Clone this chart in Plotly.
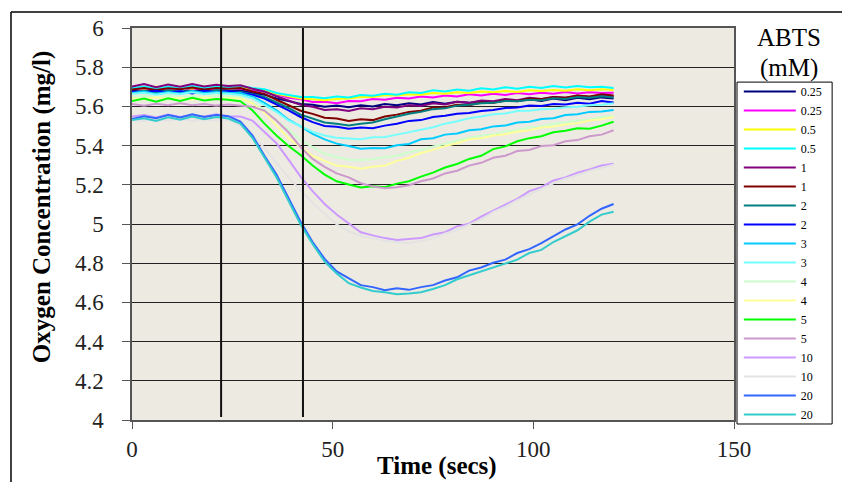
import plotly.graph_objects as go

# Time axis (seconds)
TIME = [0, 3, 6, 9, 12, 15, 18, 21, 24, 27, 30, 33, 36, 39, 42, 45, 48, 51, 54, 57, 60,
        63, 66, 69, 72, 75, 78, 81, 84, 87, 90, 93, 96, 99, 102, 105, 108, 111, 114, 117, 120]

# Legend labels (ABTS concentration, mM)
LABELS = ["0.25", "0.25", "0.5", "0.5", "1", "1", "2", "2", "3", "3",
          "4", "4", "5", "5", "10", "10", "20", "20"]

COLORS = ["#000080", "#FF00FF", "#FFFF00", "#00FFFF", "#800080", "#800000",
          "#008080", "#0000FF", "#00CCFF", "#77FFFF", "#CCFFCC", "#FFFF99",
          "#00FF00", "#CC99CC", "#CC99FF", "#E3E3E3", "#3366FF", "#33CCCC"]

s025a = [5.680, 5.688, 5.676, 5.684, 5.672, 5.686, 5.678, 5.690, 5.680, 5.682, 5.668, 5.660, 5.640, 5.628,
         5.612, 5.608, 5.598, 5.604, 5.596, 5.606, 5.600, 5.612, 5.606, 5.616, 5.610, 5.622, 5.614, 5.624,
         5.618, 5.628, 5.620, 5.632, 5.626, 5.636, 5.628, 5.640, 5.632, 5.644, 5.636, 5.646, 5.640]
s025b = [5.692, 5.684, 5.696, 5.686, 5.698, 5.688, 5.694, 5.686, 5.696, 5.690, 5.684, 5.676, 5.662, 5.644,
         5.636, 5.622, 5.624, 5.616, 5.628, 5.626, 5.638, 5.634, 5.644, 5.640, 5.650, 5.646, 5.656, 5.650,
         5.662, 5.656, 5.664, 5.658, 5.668, 5.662, 5.670, 5.664, 5.674, 5.666, 5.672, 5.668, 5.670]
s05a = [5.696, 5.690, 5.700, 5.692, 5.698, 5.690, 5.702, 5.694, 5.698, 5.696, 5.690, 5.680, 5.664, 5.652,
        5.640, 5.636, 5.632, 5.638, 5.640, 5.648, 5.648, 5.658, 5.656, 5.662, 5.660, 5.668, 5.664, 5.672,
        5.668, 5.676, 5.672, 5.678, 5.674, 5.682, 5.678, 5.684, 5.680, 5.688, 5.682, 5.688, 5.684]
s05b = [5.694, 5.702, 5.690, 5.700, 5.692, 5.704, 5.694, 5.700, 5.696, 5.704, 5.694, 5.688, 5.668, 5.658,
        5.648, 5.648, 5.642, 5.650, 5.646, 5.658, 5.654, 5.664, 5.660, 5.672, 5.668, 5.682, 5.676, 5.686,
        5.680, 5.692, 5.686, 5.698, 5.690, 5.700, 5.694, 5.704, 5.696, 5.704, 5.698, 5.700, 5.694]
s1a = [5.702, 5.714, 5.698, 5.712, 5.700, 5.714, 5.702, 5.710, 5.704, 5.708, 5.690, 5.676, 5.652, 5.632,
       5.608, 5.598, 5.582, 5.586, 5.576, 5.590, 5.586, 5.598, 5.594, 5.606, 5.602, 5.616, 5.610, 5.624,
       5.618, 5.630, 5.626, 5.638, 5.632, 5.644, 5.638, 5.648, 5.644, 5.654, 5.648, 5.658, 5.652]
s1b = [5.686, 5.694, 5.684, 5.692, 5.688, 5.696, 5.686, 5.694, 5.690, 5.694, 5.676, 5.664, 5.634, 5.608,
       5.578, 5.562, 5.542, 5.538, 5.526, 5.534, 5.530, 5.548, 5.558, 5.572, 5.578, 5.594, 5.596, 5.608,
       5.606, 5.620, 5.618, 5.630, 5.628, 5.640, 5.636, 5.648, 5.644, 5.656, 5.650, 5.662, 5.656]
s2a = [5.672, 5.680, 5.670, 5.682, 5.674, 5.680, 5.670, 5.684, 5.676, 5.674, 5.662, 5.648, 5.620, 5.592,
       5.558, 5.536, 5.518, 5.512, 5.502, 5.512, 5.518, 5.534, 5.548, 5.562, 5.572, 5.586, 5.590, 5.604,
       5.608, 5.616, 5.618, 5.628, 5.626, 5.634, 5.632, 5.642, 5.638, 5.648, 5.644, 5.652, 5.646]
s2b = [5.676, 5.668, 5.680, 5.670, 5.678, 5.666, 5.680, 5.672, 5.678, 5.668, 5.660, 5.640, 5.612, 5.580,
       5.546, 5.520, 5.500, 5.496, 5.486, 5.492, 5.488, 5.502, 5.512, 5.526, 5.530, 5.546, 5.552, 5.562,
       5.566, 5.576, 5.582, 5.592, 5.594, 5.604, 5.602, 5.612, 5.610, 5.618, 5.614, 5.628, 5.620]
s3a = [5.668, 5.676, 5.664, 5.674, 5.666, 5.678, 5.668, 5.674, 5.670, 5.668, 5.650, 5.618, 5.580, 5.532,
       5.498, 5.460, 5.432, 5.410, 5.398, 5.384, 5.388, 5.386, 5.402, 5.408, 5.432, 5.438, 5.456, 5.462,
       5.478, 5.484, 5.498, 5.502, 5.518, 5.522, 5.536, 5.540, 5.556, 5.560, 5.572, 5.574, 5.582]
s3b = [5.664, 5.670, 5.660, 5.668, 5.662, 5.672, 5.662, 5.668, 5.664, 5.658, 5.642, 5.608, 5.572, 5.528,
       5.500, 5.470, 5.452, 5.440, 5.436, 5.432, 5.442, 5.444, 5.456, 5.468, 5.480, 5.494, 5.512, 5.524,
       5.540, 5.548, 5.560, 5.564, 5.576, 5.578, 5.586, 5.588, 5.596, 5.598, 5.606, 5.608, 5.616]
s4a = [5.648, 5.654, 5.646, 5.656, 5.648, 5.652, 5.644, 5.656, 5.650, 5.648, 5.620, 5.582, 5.528, 5.482,
       5.428, 5.392, 5.358, 5.342, 5.328, 5.326, 5.330, 5.342, 5.348, 5.366, 5.378, 5.396, 5.408, 5.426,
       5.438, 5.452, 5.458, 5.472, 5.478, 5.492, 5.498, 5.512, 5.518, 5.528, 5.532, 5.546, 5.552]
s4b = [5.642, 5.636, 5.646, 5.638, 5.644, 5.634, 5.646, 5.638, 5.642, 5.640, 5.616, 5.568, 5.502, 5.438,
       5.392, 5.348, 5.322, 5.298, 5.292, 5.282, 5.292, 5.298, 5.322, 5.338, 5.362, 5.378, 5.398, 5.412,
       5.432, 5.438, 5.452, 5.458, 5.472, 5.478, 5.492, 5.498, 5.508, 5.514, 5.528, 5.534, 5.546]
s5a = [5.628, 5.640, 5.624, 5.642, 5.628, 5.644, 5.630, 5.638, 5.634, 5.626, 5.580, 5.512, 5.452, 5.398,
       5.352, 5.298, 5.252, 5.218, 5.202, 5.186, 5.192, 5.188, 5.206, 5.218, 5.242, 5.262, 5.288, 5.306,
       5.332, 5.348, 5.382, 5.396, 5.422, 5.438, 5.448, 5.468, 5.476, 5.488, 5.486, 5.502, 5.522]
s5b = [5.612, 5.604, 5.614, 5.606, 5.616, 5.606, 5.612, 5.604, 5.610, 5.604, 5.598, 5.578, 5.528, 5.468,
       5.392, 5.332, 5.292, 5.258, 5.238, 5.208, 5.192, 5.182, 5.188, 5.198, 5.218, 5.232, 5.258, 5.272,
       5.298, 5.312, 5.338, 5.348, 5.372, 5.378, 5.398, 5.402, 5.422, 5.428, 5.448, 5.456, 5.478]
s10a = [5.548, 5.556, 5.544, 5.558, 5.546, 5.554, 5.548, 5.560, 5.550, 5.548, 5.528, 5.468, 5.412, 5.328,
        5.242, 5.168, 5.102, 5.048, 5.002, 4.958, 4.942, 4.928, 4.918, 4.922, 4.928, 4.946, 4.958, 4.988,
        5.002, 5.038, 5.068, 5.102, 5.128, 5.168, 5.188, 5.222, 5.238, 5.262, 5.278, 5.298, 5.308]
s10b = [5.532, 5.526, 5.536, 5.528, 5.538, 5.526, 5.534, 5.528, 5.532, 5.502, 5.452, 5.388, 5.312, 5.238,
        5.172, 5.108, 5.052, 4.998, 4.962, 4.938, 4.928, 4.914, 4.908, 4.902, 4.914, 4.928, 4.952, 4.968,
        4.998, 5.022, 5.062, 5.088, 5.122, 5.152, 5.182, 5.208, 5.232, 5.248, 5.272, 5.288, 5.302]
s20a = [5.536, 5.550, 5.540, 5.556, 5.544, 5.560, 5.546, 5.556, 5.550, 5.522, 5.452, 5.348, 5.252, 5.128,
        5.012, 4.908, 4.822, 4.758, 4.722, 4.688, 4.678, 4.662, 4.672, 4.664, 4.678, 4.688, 4.712, 4.728,
        4.762, 4.778, 4.802, 4.818, 4.852, 4.872, 4.902, 4.938, 4.972, 4.998, 5.042, 5.078, 5.102]
s20b = [5.530, 5.540, 5.526, 5.544, 5.532, 5.548, 5.534, 5.546, 5.538, 5.512, 5.440, 5.338, 5.238, 5.118,
        4.998, 4.898, 4.808, 4.748, 4.698, 4.676, 4.658, 4.652, 4.642, 4.646, 4.652, 4.668, 4.688, 4.718,
        4.738, 4.762, 4.778, 4.802, 4.818, 4.852, 4.868, 4.908, 4.938, 4.968, 5.012, 5.048, 5.062]

SERIES = [s025a, s025b, s05a, s05b, s1a, s1b, s2a, s2b, s3a, s3b,
          s4a, s4b, s5a, s5b, s10a, s10b, s20a, s20b]

# Times of the two vertical marker lines (s)
MARKERS = [22.2, 42.6]

X_TICKS = [0, 50, 100, 150]
Y_TICKS = [4, 4.2, 4.4, 4.6, 4.8, 5, 5.2, 5.4, 5.6, 5.8, 6]

FONT = "Liberation Serif, Times New Roman, serif"

fig = go.Figure()
for name, ys, col in zip(LABELS, SERIES, COLORS):
    fig.add_trace(go.Scatter(x=TIME, y=ys, mode="lines", name=name,
                             line=dict(color=col, width=2)))

shapes = []
for m in MARKERS:
    shapes.append(dict(type="line", xref="x", yref="y", x0=m, x1=m, y0=4.015, y1=6,
                       line=dict(color="#111111", width=2), layer="above"))
# legend box
shapes.append(dict(type="rect", xref="paper", yref="paper", x0=1.005, x1=1.163,
                   y0=-0.0102, y1=0.862, line=dict(color="black", width=1),
                   fillcolor="white", layer="below"))
# outer chart border (top and left)
shapes.append(dict(type="line", xref="paper", yref="paper", x0=-0.201, x1=1.2,
                   y0=1.0408, y1=1.0408, line=dict(color="black", width=1.5)))
shapes.append(dict(type="line", xref="paper", yref="paper", x0=-0.201, x1=-0.201,
                   y0=-0.2, y1=1.0408, line=dict(color="black", width=1.5)))

annotations = [
    dict(text="ABTS", xref="paper", yref="paper", x=1.0914, y=0.9745, showarrow=False,
         font=dict(family=FONT, size=25, color="black"), xanchor="center", yanchor="middle"),
    dict(text="(mM)", xref="paper", yref="paper", x=1.0914, y=0.898, showarrow=False,
         font=dict(family=FONT, size=25, color="black"), xanchor="center", yanchor="middle"),
    dict(text="<b>Oxygen Concentration (mg/l)</b>", xref="paper", yref="paper",
         x=-0.1495, y=0.543, textangle=-90, showarrow=False,
         font=dict(family=FONT, size=25, color="black"), xanchor="center", yanchor="middle"),
    dict(text="<b>Time (secs)</b>", xref="paper", yref="paper", x=0.5066, y=-0.117,
         showarrow=False, font=dict(family=FONT, size=25, color="black"),
         xanchor="center", yanchor="middle"),
]

fig.update_layout(
    width=842, height=482,
    margin=dict(l=132, r=108, t=28, b=62),
    paper_bgcolor="white",
    plot_bgcolor="#EDEAE2",
    font=dict(family=FONT, color="black"),
    showlegend=True,
    legend=dict(x=1.008, y=0.875, xanchor="left", yanchor="top",
                bgcolor="rgba(0,0,0,0)", borderwidth=0,
                font=dict(family=FONT, size=12, color="black"),
                itemwidth=52, tracegroupgap=0),
    shapes=shapes,
    annotations=annotations,
)
fig.update_xaxes(range=[0, 150], tickvals=X_TICKS, showgrid=False, zeroline=False,
                 showline=True, linecolor="#555555", linewidth=1.5, mirror=True,
                 ticks="outside", ticklen=7, tickcolor="#555555",
                 tickfont=dict(family=FONT, size=23, color="#222222"),
                 ticklabelstandoff=1)
fig.update_yaxes(range=[4, 6], tickvals=Y_TICKS, ticktext=[f"{v:g}" for v in Y_TICKS],
                 showgrid=True, gridcolor="#222222", gridwidth=1, zeroline=False,
                 showline=True, linecolor="#555555", linewidth=1.5, mirror=True,
                 ticks="outside", ticklen=8, tickcolor="#555555",
                 tickfont=dict(family=FONT, size=23, color="#222222"),
                 ticklabelstandoff=14)

fig.write_html("out.html")
